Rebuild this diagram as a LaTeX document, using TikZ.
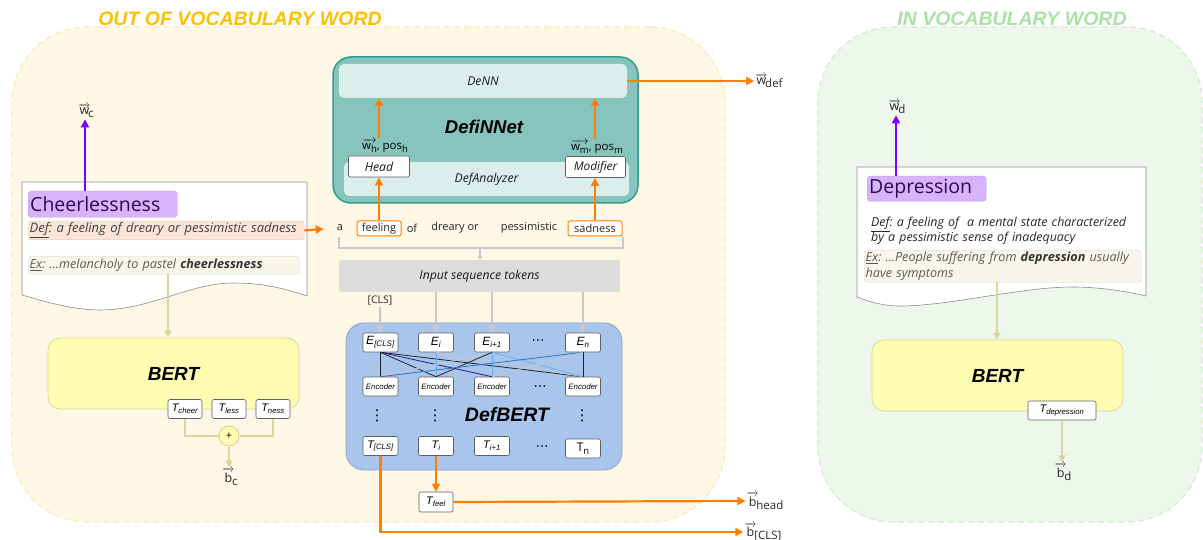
\documentclass[tikz,border=0pt]{standalone}
\usepackage{amsmath}
\usepackage{fontspec}
\setmainfont{Open Sans}
\newfontfamily\arial{Liberation Sans}
\newfontfamily\dejavu{DejaVu Sans}
\usetikzlibrary{arrows.meta,calc}
\frenchspacing
\newcommand\fsz[2]{\fontsize{#1}{#2}\selectfont}
\newcommand\vecl[2]{\mbox{$\overrightarrow{\hbox{#1}}$\kern-2.2pt\raisebox{-3pt}{\fsz{11.5}{12}#2}}}
\newcommand\lowsub[1]{\raisebox{-2.5pt}{\fsz{9.5}{10}#1}}
\definecolor{orng}{HTML}{FF8000}
\definecolor{purpA}{HTML}{8000FF}
\definecolor{purpfill}{HTML}{D6B3FC}
\definecolor{purpline}{HTML}{C6A0EE}
\definecolor{purptext}{HTML}{2A0A4A}
\definecolor{peach}{HTML}{FCE4D6}
\definecolor{peachline}{HTML}{EBCDBD}
\definecolor{exfill}{HTML}{F8F6EA}
\definecolor{exline}{HTML}{DCD9C6}
\definecolor{extext}{HTML}{5A5A5A}
\definecolor{oovfill}{HTML}{FFF7E5}
\definecolor{oovline}{HTML}{FBE8BE}
\definecolor{oovtitle}{HTML}{FFC000}
\definecolor{ivfill}{HTML}{EDF7EC}
\definecolor{ivline}{HTML}{D3EBCF}
\definecolor{ivtitle}{HTML}{AAE2A5}
\definecolor{tealA}{HTML}{86C4BD}
\definecolor{tealline}{HTML}{2F9D90}
\definecolor{tealin}{HTML}{DCEEEB}
\definecolor{inputgray}{HTML}{DDDDDD}
\definecolor{garrow}{HTML}{C8C8C8}
\definecolor{bertblue}{HTML}{A9C5EB}
\definecolor{bertline}{HTML}{8DA0C5}
\definecolor{yel}{HTML}{FFFDB2}
\definecolor{yelline}{HTML}{D8D49C}
\definecolor{olive}{HTML}{D8D69B}
\definecolor{boxgray}{HTML}{606060}
\definecolor{navyl}{HTML}{1A1A8C}
\definecolor{bluel}{HTML}{2F6FD0}
\definecolor{lbluel}{HTML}{6AAEF0}
\definecolor{blackl}{HTML}{222222}
\begin{document}
\begin{tikzpicture}[x=1pt,y=-1pt,
  region/.style={dashed, dash pattern=on 6pt off 4pt, line width=1.2pt, rounded corners=75pt, inner sep=0pt},
  box/.style={draw=boxgray, fill=white, rounded corners=2pt, line width=0.6pt, inner sep=0pt, text=black},
  ebox/.style={box, minimum width=35pt, minimum height=19pt, font=\arial\itshape\fsz{12}{12}},
  encbox/.style={box, minimum width=35pt, minimum height=19pt, font=\arial\itshape\fsz{7.8}{8}},
  tbox/.style={box, minimum width=34pt, minimum height=19pt, font=\arial\itshape\fsz{11}{12}},
  lbl/.style={font=\itshape\fsz{12.2}{14}, text=black!90},
  oarrow/.style={draw=orng, line width=2.2pt, -{Triangle[length=8pt,width=8pt]}},
  parrow/.style={draw=purpA, line width=2.2pt, -{Triangle[length=8pt,width=8pt]}},
  garr/.style={draw=garrow, line width=2.2pt, -{Triangle[length=7pt,width=7pt]}},
  yarr/.style={draw=olive, line width=2.2pt, -{Triangle[length=7pt,width=7pt]}},
  purplebox/.style={fill=purpfill, draw=purpline, rounded corners=3pt, inner sep=2pt, text=purptext, font=\fsz{19.5}{22}, align=left},
  defbox/.style={fill=peach, draw=peachline, rounded corners=2pt, inner sep=1.5pt, font=\itshape\fsz{13}{14}, text=black!75, align=left},
  exbox/.style={fill=exfill, draw=exline, rounded corners=3pt, inner sep=1.5pt, font=\itshape\fsz{12.6}{16}, text=extext, align=left},
  docline/.style={draw=black!45, line width=0.6pt, fill=white},
  word/.style={font=\fsz{11}{12}, inner sep=1pt, text=black!85},
  wordbox/.style={word, draw=orng, line width=1pt, rounded corners=2pt, fill=white, minimum height=15pt},
  vlab/.style={font=\fsz{12.5}{13}, inner sep=1pt, text=black!85},
  bertbox/.style={fill=yel, draw=yelline, line width=0.8pt, rounded corners=12pt, font=\arial\bfseries\itshape\fsz{19}{20}},
  hdots/.style={font=\dejavu\fsz{13}{13}},
  vdots/.style={font=\dejavu\fsz{15}{15}},
  enc/.style={line width=0.8pt}
]
\useasboundingbox (0,0) rectangle (1203,540);

% regions
\node[region, fill=oovfill, draw=oovline, minimum width=713pt, minimum height=495pt] (oov) at (368.5,274.5) {};
\node[font=\arial\bfseries\itshape\fsz{19.5}{20}, text=oovtitle] (oovt) at (240,19) {OUT OF VOCABULARY WORD};
\node[region, fill=ivfill, draw=ivline, minimum width=384pt, minimum height=495pt] (iv) at (1010,274.5) {};
\node[font=\arial\bfseries\itshape\fsz{19.5}{20}, text=ivtitle] (ivt) at (1012,19) {IN VOCABULARY WORD};

% left document
\draw[docline] (22,182) -- (307,182) -- (307,296) .. controls (280,287) and (260,283) .. (233,283) .. controls (190,283) and (150,310) .. (100,310) .. controls (70,310) and (40,300) .. (22,295) -- cycle;
\node[purplebox, text width=145pt, minimum height=26pt, anchor=north west] (cheer) at (28,191) {Cheerlessness};
\node[defbox, text width=273pt, minimum height=17pt, anchor=north west] (def) at (28,221) {\underline{Def}: a feeling of dreary or pessimistic sadness};
\node[exbox, text width=268pt, minimum height=18pt, anchor=north west] (ex) at (28,256) {\underline{Ex}: ...melancholy to pastel {\color{black!80}\bfseries cheerlessness}};
\node[vlab] (wc) at (86,111) {\vecl{w}{c}};
\draw[parrow] (85,0 |- cheer.north) -- (85,0 |- wc.south);

% left BERT
\node[bertbox, minimum width=251pt, minimum height=71pt] (bert1) at (173.5,373.5) {BERT};
\coordinate (a1) at (168,0);
\draw[yarr] (ex.south -| a1) -- (bert1.north -| a1);
\node[tbox] (tcheer) at (185,409) {T\textsubscript{cheer}};
\node[tbox] (tless) at (229,409) {T\textsubscript{less}};
\node[tbox] (tness) at (273,409) {T\textsubscript{ness}};
\node[circle, fill=yel, draw=yelline, line width=1pt, minimum size=20pt, inner sep=0pt, font=\fsz{11}{12}] (plus) at (229,436) {+};
\draw[draw=olive, line width=2.2pt] (tcheer.south) |- (plus.west);
\draw[draw=olive, line width=2.2pt] (tness.south) |- (plus.east);
\node[vlab] (bc) at (230,477) {\vecl{b}{c}};
\draw[yarr] (plus.south) -- (plus.south |- bc.north);

% DefiNNet
\node[draw=tealline, fill=tealA, line width=1.5pt, rounded corners=18pt, minimum width=305pt, minimum height=146pt] (definnet) at (485.5,130) {};
\node[lbl, fill=tealin, rounded corners=5pt, minimum width=288pt, minimum height=34pt] (denn) at (483,81) {DeNN};
\node[lbl, fill=tealin, rounded corners=5pt, minimum width=285pt, minimum height=34pt] (defan) at (486.5,179) {DefAnalyzer};
\node[font=\arial\bfseries\itshape\fsz{18.5}{20}] (dnlabel) at (484,127) {DefiNNet};
\node[box, lbl, minimum width=61pt, minimum height=21pt] (head) at (379,166.5) {Head};
\node[box, lbl, font=\itshape\fsz{11.8}{14}, minimum width=60pt, minimum height=21pt] (mod) at (595.5,167) {Modifier};
\node[font=\fsz{11.5}{12}, inner sep=1pt] (wh) at (385,146) {$\overrightarrow{\hbox{w\lowsub{h}}}$, pos\lowsub{h}};
\node[font=\fsz{11.5}{12}, inner sep=1pt] (wm) at (597,147) {$\overrightarrow{\hbox{w\lowsub{m}}}$, pos\lowsub{m}};
\draw[oarrow] (head.north |- wh.north) -- (head.north |- denn.south);
\draw[oarrow] (595,0 |- wm.north) -- (595,0 |- denn.south);
\node[vlab] (wdef) at (769,81) {\vecl{w}{def}};
\draw[oarrow] (denn.east) -- (wdef.west);

% words
\node[word] (wa) at (340,228) {a};
\node[wordbox, minimum width=44pt] (wfeel) at (379,228.5) {feeling};
\node[word] (wof) at (412,228) {of};
\node[word] (wdr) at (455,228) {dreary or};
\node[word] (wpe) at (529,228) {pessimistic};
\node[wordbox, minimum width=54pt] (wsad) at (595,228.5) {sadness};
\draw[oarrow, shorten >=12pt] (def.east) -- (wa.west);
\draw[oarrow] (wfeel.north) -- (head.south);
\draw[oarrow] (wsad.north) -- (wsad.north |- mod.south);

% bracket and input tokens
\coordinate (bl) at (339,237);
\coordinate (br) at (623,237);
\coordinate (bm) at (480,248);
\draw[draw=garrow, line width=2pt] (bl) |- (br |- bm) -- (br);
\node[lbl, fill=inputgray, minimum width=281pt, minimum height=32pt] (input) at (479.5,276) {Input sequence tokens};
\draw[draw=garrow, line width=1.2pt, -{Triangle[length=4pt,width=4pt]}] (bm) -- (bm |- input.north);

% DefBERT
\node[fill=bertblue, draw=bertline, rounded corners=18pt, minimum width=276pt, minimum height=147pt, line width=0.8pt] (defbert) at (484,396.5) {};
\node[ebox] (ecls) at (380.5,342.5) {E\textsubscript{[CLS]}};
\node[ebox] (ei) at (436,342.5) {E\textsubscript{i}};
\node[ebox] (ei1) at (492,342.5) {E\textsubscript{i+1}};
\node[hdots] (edots) at (538,342) {⋯};
\node[ebox] (en) at (583,342.5) {E\textsubscript{n}};
\node[encbox] (enc1) at (380.5,386.5) {Encoder};
\node[encbox] (enc2) at (436,386.5) {Encoder};
\node[encbox] (enc3) at (492,386.5) {Encoder};
\node[hdots] (encdots) at (540,388) {⋯};
\node[encbox] (enc4) at (583,386.5) {Encoder};
\node[vdots] (vd1) at (377,416) {⋮};
\node[vdots] (vd2) at (435,416) {⋮};
\node[vdots] (vd3) at (582,416) {⋮};
\node[font=\arial\bfseries\itshape\fsz{19.5}{20}] (dblabel) at (507,415) {DefBERT};
\node[tbox, minimum width=35pt] (tcls) at (380.5,446) {T\textsubscript{[CLS]}};
\node[tbox, minimum width=35pt] (ti) at (436,446) {T\textsubscript{i}};
\node[tbox, minimum width=35pt] (ti1) at (492,446) {T\textsubscript{i+1}};
\node[hdots] (tdots) at (542,448) {⋯};
\node[box, minimum width=35pt, minimum height=19pt, font=\fsz{12}{12}] (tn) at (583,448.5) {T\lowsub{n}};

% encoder lines
\draw[enc, blackl] (ecls.south) -- (enc1.north);
\draw[enc, blackl] (ecls.south) -- (enc2.north);
\draw[enc, navyl] (ecls.south) -- (enc3.north);
\draw[enc, blackl] (ecls.south) -- (enc4.north);
\draw[enc, lbluel] (ei.south) -- (enc2.north);
\draw[enc, garrow] (ei.south) -- (enc4.north);
\draw[enc, garrow] (ei1.south) -- (enc1.north);
\draw[enc, blackl] (ei1.south) -- (enc2.north);
\draw[enc, lbluel] (ei1.south) -- (enc3.north);
\draw[enc, lbluel] (ei1.south) -- (enc4.north);
\draw[enc, bluel] (en.south) -- (enc1.north);
\draw[enc, garrow] (en.south) -- (enc3.north);
\draw[enc, blackl] (en.south) -- (enc4.north);

% inputs to E
\node[font=\fsz{10.5}{12}, text=black!85, inner sep=1pt] (clsl) at (380,301) {[CLS]};
\draw[garr] (clsl.south) -- (ecls.north);
\draw[garr] (ei.north |- input.south) -- (ei.north);
\draw[garr] (ei1.north |- input.south) -- (ei1.north);
\draw[garr] (en.north |- input.south) -- (en.north);

% outputs
\node[tbox, minimum width=34pt, minimum height=20pt] (tfeel) at (436,502) {T\textsubscript{feel}};
\draw[oarrow] (ti.south) -- (tfeel.north);
\node[vlab] (bhead) at (765,501) {\vecl{b}{head}};
\draw[oarrow] (tfeel.east) -- (bhead.west);
\node[vlab] (bcls) at (763,532) {\vecl{b}{[CLS]}};
\draw[oarrow] (tcls.south) |- (bcls.west);

% right document
\draw[docline] (857,167) -- (1146,167) -- (1146,296) .. controls (1120,290) and (1095,287) .. (1073,287) .. controls (1020,287) and (950,306) .. (900,306) .. controls (880,306) and (865,300) .. (857,297) -- cycle;
\node[purplebox, text width=115pt, minimum height=25pt, anchor=north west] (dep) at (867,176) {Depression};
\node[anchor=north west, text width=278pt, align=left, font=\itshape\fsz{12.4}{15}, inner sep=0pt, text=black!85] (defd) at (871,217) {\underline{Def}: a feeling of~ a mental state characterized\\by a pessimistic sense of inadequacy};
\node[exbox, text width=274pt, minimum height=32pt, anchor=north west] (exd) at (864,250) {\underline{Ex}: ...People suffering from {\color{black!80}\bfseries depression} usually\\have symptoms};
\node[vlab] (wd) at (897,107) {\vecl{w}{d}};
\draw[parrow] (896,0 |- dep.north) -- (896,0 |- wd.south);
\node[bertbox, minimum width=251pt, minimum height=71pt] (bert2) at (997.5,375.5) {BERT};
\coordinate (a2) at (997,0);
\draw[yarr] (exd.south -| a2) -- (bert2.north -| a2);
\node[tbox, minimum width=68pt] (tdep) at (1062,410.5) {T\textsubscript{depression}};
\node[vlab] (bd) at (1063,472) {\vecl{b}{d}};
\draw[yarr] (tdep.south) -- (tdep.south |- bd.north);
\end{tikzpicture}
\end{document}
